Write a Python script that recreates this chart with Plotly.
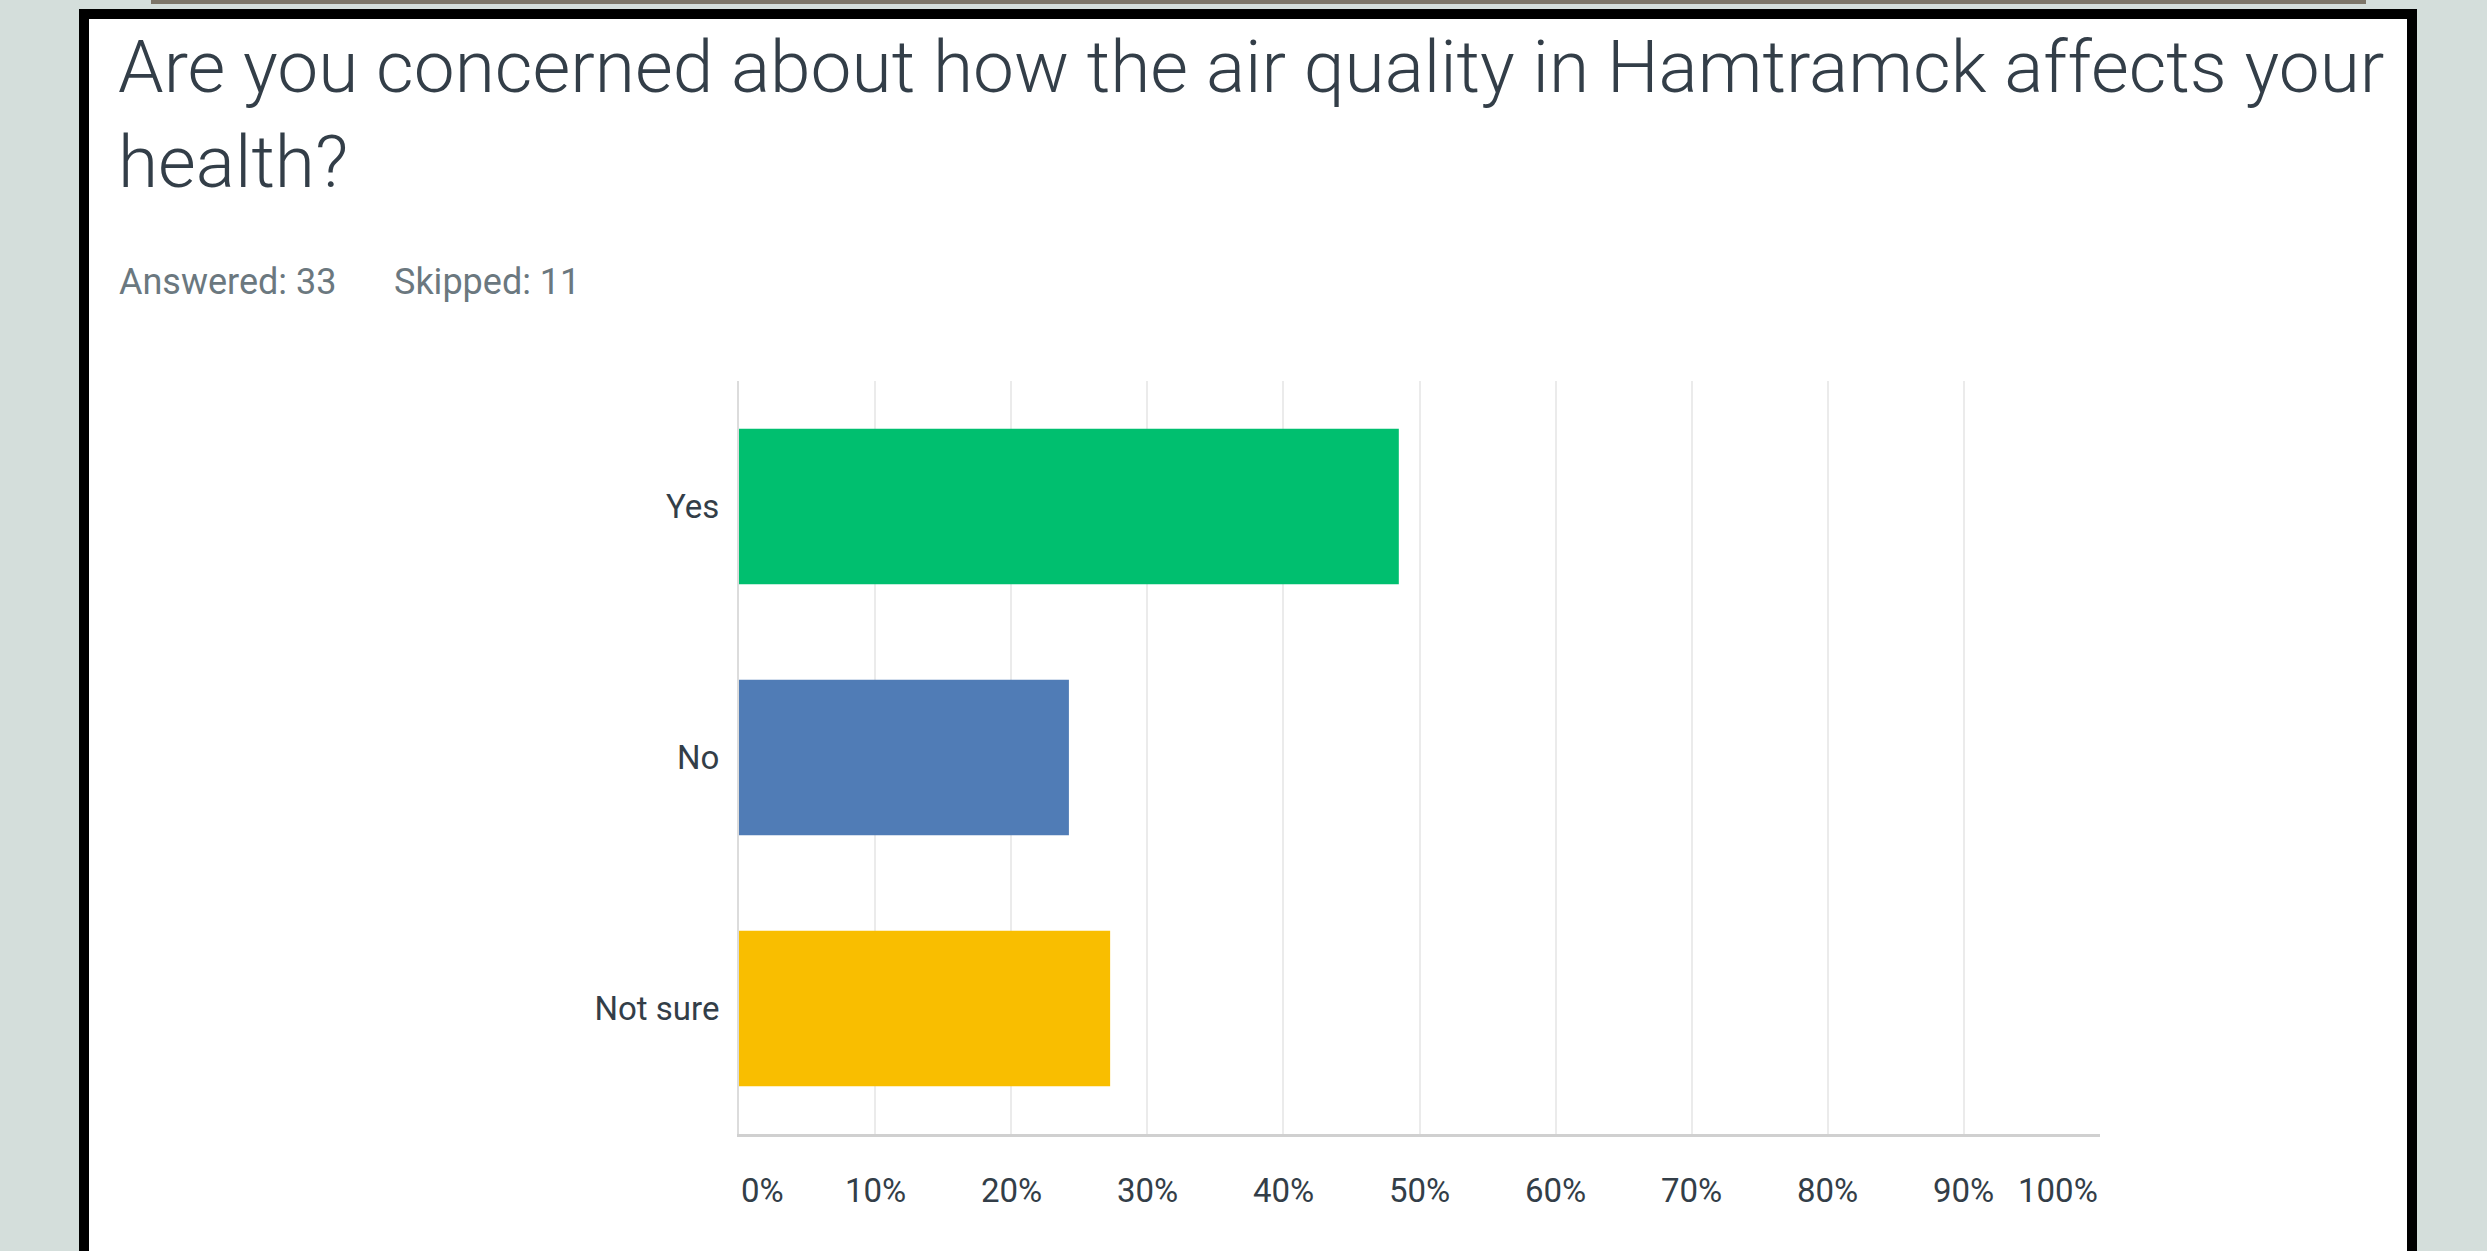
import plotly.graph_objects as go

# Survey results: share of respondents per answer (%)
answers = ["Yes", "No", "Not sure"]
shares = [48.48, 24.24, 27.27]
bar_colors = ["#00bf6f", "#507cb6", "#f9be00"]

answered = 33
skipped = 11
question = "Are you concerned about how the air quality in Hamtramck affects your<br>health?"

tick_values = [0, 10, 20, 30, 40, 50, 60, 70, 80, 90, 100]
tick_labels = [f"{v}%" for v in tick_values]

W, H = 2487, 1251
L, R, T, B = 739, 2100, 381, 1134  # plot area in pixels


def px(x):
    return (x - L) / (R - L)


def py(y):
    return 1 - (y - T) / (B - T)


fig = go.Figure()
fig.add_trace(go.Bar(
    y=answers,
    x=shares,
    orientation="h",
    marker=dict(color=bar_colors, line=dict(width=0)),
    width=0.62,
    hoverinfo="skip",
))

shapes = [
    # page strip above the card
    dict(type="rect", xref="paper", yref="paper", x0=px(151), x1=px(2366), y0=py(0), y1=py(4),
         fillcolor="#7c7568", line=dict(width=0), layer="below"),
    # card frame and white card body
    dict(type="rect", xref="paper", yref="paper", x0=px(79), x1=px(2417), y0=py(9), y1=py(1300),
         fillcolor="#000000", line=dict(width=0), layer="below"),
    dict(type="rect", xref="paper", yref="paper", x0=px(89), x1=px(2407), y0=py(19), y1=py(1300),
         fillcolor="#ffffff", line=dict(width=0), layer="below"),
]

annotations = [
    dict(text=question, xref="paper", yref="paper", x=px(116), y=py(22), xanchor="left", yanchor="top",
         showarrow=False, align="left",
         font=dict(family="Roboto", size=73, color="#333e48", weight=300)),
    dict(text=f"Answered: {answered}", xref="paper", yref="paper", x=px(117), y=py(282),
         xanchor="left", yanchor="middle", showarrow=False,
         font=dict(family="Roboto", size=36, color="#6b787f")),
    dict(text=f"Skipped: {skipped}", xref="paper", yref="paper", x=px(392), y=py(282),
         xanchor="left", yanchor="middle", showarrow=False,
         font=dict(family="Roboto", size=36, color="#6b787f")),
]

for v, lab in zip(tick_values, tick_labels):
    anchor = "left" if v == tick_values[0] else ("right" if v == tick_values[-1] else "center")
    annotations.append(dict(text=lab, xref="x", yref="paper", x=v, y=py(1190),
                            xanchor=anchor, yanchor="middle", showarrow=False,
                            font=dict(family="Roboto", size=33, color="#333e48")))

fig.update_layout(
    width=W, height=H,
    margin=dict(l=L, r=W - R, t=T, b=H - B, pad=0),
    paper_bgcolor="#d4dedb",
    plot_bgcolor="#ffffff",
    showlegend=False,
    bargap=0.38,
    shapes=shapes,
    annotations=annotations,
    xaxis=dict(range=[0, 100], tickvals=tick_values, showticklabels=False, ticks="",
               showgrid=True, gridcolor="#ebebeb", gridwidth=2, zeroline=False,
               showline=True, linecolor="#d0d0d0", linewidth=3, fixedrange=True),
    yaxis=dict(autorange="reversed", categoryorder="array", categoryarray=answers,
               ticks="", ticklabelstandoff=11, showgrid=False, zeroline=False,
               showline=True, linecolor="#dcdcdc", linewidth=2,
               tickfont=dict(family="Roboto", size=33, color="#333e48"), fixedrange=True),
)

fig.write_html("out.html", config={"displayModeBar": False})
